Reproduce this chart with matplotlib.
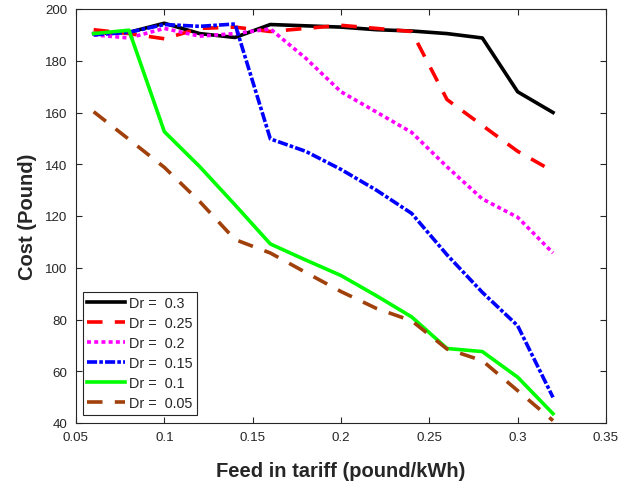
import matplotlib
matplotlib.use("Agg")
import matplotlib.pyplot as plt

x = [0.06, 0.08, 0.10, 0.12, 0.14, 0.16, 0.18, 0.20, 0.22, 0.24, 0.26, 0.28, 0.30, 0.32]
dr_03 = [190.5, 191, 194.5, 190.5, 189, 194, 193.5, 193, 192, 191.5, 190.5, 188.8, 168, 160]
dr_025 = [192, 190.5, 188.5, 192.5, 193, 191.3, 192.5, 193.7, 192.5, 191.3, 165, 155, 145, 137.3]
dr_02 = [190, 188.8, 192.5, 189.5, 190.5, 192.3, 181, 168, 160.2, 152.3, 139, 126.6, 119.5, 105.7]
dr_015 = [190, 191, 194, 193.3, 194.2, 149.8, 145, 138, 130, 121, 105, 90.5, 77.6, 49.9]
dr_01 = [190.5, 191.8, 152.6, 139.1, 124.3, 109.2, 103, 97, 89.2, 81, 68.8, 67.6, 57.7, 43.6]
dr_005 = [160.3, 149.6, 138.8, 125.6, 110.9, 105.7, 98.2, 90.8, 84.3, 79.5, 68.6, 64.1, 52.5, 40.9]

labels = ['Dr =  0.3', 'Dr =  0.25', 'Dr =  0.2', 'Dr =  0.15', 'Dr =  0.1', 'Dr =  0.05']
xticks = [0.05, 0.1, 0.15, 0.2, 0.25, 0.3, 0.35]
xticklabels = ['0.05', '0.1', '0.15', '0.2', '0.25', '0.3', '0.35']
yticks = [40, 60, 80, 100, 120, 140, 160, 180, 200]

plt.rcParams['font.family'] = ['Liberation Sans', 'DejaVu Sans']

fig = plt.figure(figsize=(6.35, 4.89), dpi=100)
ax = fig.add_axes([76/635, 65/489, 530/635, 414/489])

lw = 2.6
ax.plot(x, dr_03, color='black', lw=lw, linestyle='-', label=labels[0])
ax.plot(x, dr_025, color='#ff0000', lw=lw, linestyle=(0, (4.3, 3.4)), label=labels[1])
ax.plot(x, dr_02, color='#ff00ff', lw=lw, linestyle=(0, (1.1, 0.9)), label=labels[2])
ax.plot(x, dr_015, color='#0000ff', lw=lw, linestyle=(0, (2.8, 0.6, 1.0, 0.6)), label=labels[3])
ax.plot(x, dr_01, color='#00ff00', lw=lw, linestyle='-', label=labels[4])
ax.plot(x, dr_005, color='#a0400a', lw=lw, linestyle=(0, (4.3, 3.4)), label=labels[5])

ax.set_xlim(0.05, 0.35)
ax.set_ylim(40, 200)
ax.set_xticks(xticks)
ax.set_xticklabels(xticklabels)
ax.set_yticks(yticks)

axcol = '#262626'
ax.tick_params(direction='in', top=True, right=True, length=4, width=0.8,
               colors=axcol, labelsize=9.6)
ax.tick_params(axis='x', pad=6)
ax.tick_params(axis='y', pad=6)
for s in ax.spines.values():
    s.set_color(axcol)
    s.set_linewidth(0.8)

ax.set_xlabel('Feed in tariff (pound/kWh)', fontsize=14.5, fontweight='bold', color=axcol, labelpad=13)
ax.set_ylabel('Cost (Pound)', fontsize=14.5, fontweight='bold', color=axcol, labelpad=6)

leg = ax.legend(loc='lower left', bbox_to_anchor=(0.0126, 0.020), borderaxespad=0,
                fontsize=10.4, handlelength=2.6, handletextpad=0.3, labelspacing=0.42,
                borderpad=0.3, fancybox=False, framealpha=1, edgecolor=axcol)
leg.get_frame().set_linewidth(0.8)
for t in leg.get_texts():
    t.set_color(axcol)

fig.savefig('out.png', dpi=100)
